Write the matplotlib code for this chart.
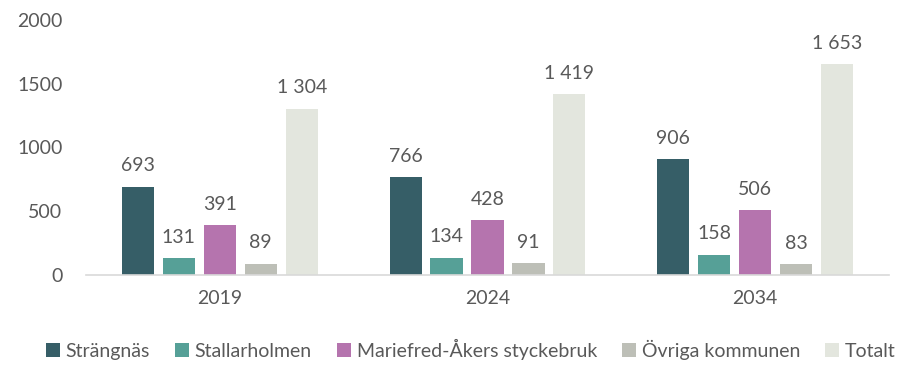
import matplotlib.pyplot as plt
import numpy as np

years = ["2019", "2024", "2034"]
series = ["Strängnäs", "Stallarholmen", "Mariefred-Åkers styckebruk", "Övriga kommunen", "Totalt"]
strangnas = [693, 766, 906]
stallarholmen = [131, 134, 158]
mariefred = [391, 428, 506]
ovriga = [89, 91, 83]
totalt = [1304, 1419, 1653]
colors = ["#365E67", "#56A097", "#B574AE", "#BDBFB7", "#E3E6DE"]
yticks = [0, 500, 1000, 1500, 2000]

values = [strangnas, stallarholmen, mariefred, ovriga, totalt]
text_color = "#595959"

plt.rcParams['font.family'] = ['Lato', 'DejaVu Sans']

fig = plt.figure(figsize=(9.09, 3.68), dpi=100)
ax = fig.add_axes([86 / 909, 1 - 275 / 368, 803 / 909, 255 / 368])

x = np.arange(len(years))
step = 0.153
width = 0.12
for i, (name, vals, c) in enumerate(zip(series, values, colors)):
    pos = x + (i - 2) * step
    bars = ax.bar(pos, vals, width, color=c, label=name)
    for b, v in zip(bars, vals):
        ax.annotate(f"{v:,}".replace(",", " "),
                    (b.get_x() + b.get_width() / 2, v),
                    xytext=(0, 9), textcoords="offset points",
                    ha="center", va="bottom", fontsize=14, color=text_color)

ax.set_xlim(-0.5, 2.5)
ax.set_ylim(0, 2000)
ax.set_yticks(yticks)
ax.set_yticklabels([str(t) for t in yticks])
ax.set_xticks(x)
ax.set_xticklabels(years)
ax.tick_params(axis="both", length=0, labelsize=14, labelcolor=text_color)
ax.tick_params(axis="y", pad=17)
ax.tick_params(axis="x", pad=11)
for s in ["top", "right", "left"]:
    ax.spines[s].set_visible(False)
ax.spines["bottom"].set_color("#D9D9D9")
ax.spines["bottom"].set_linewidth(1.2)

leg = fig.legend(loc="lower center", bbox_to_anchor=(0.518, -0.025), ncol=5, frameon=False,
                 fontsize=14, handlelength=0.7, handleheight=0.7, handletextpad=0.3,
                 columnspacing=1.3, labelcolor=text_color)

fig.savefig("out.png", dpi=100)
